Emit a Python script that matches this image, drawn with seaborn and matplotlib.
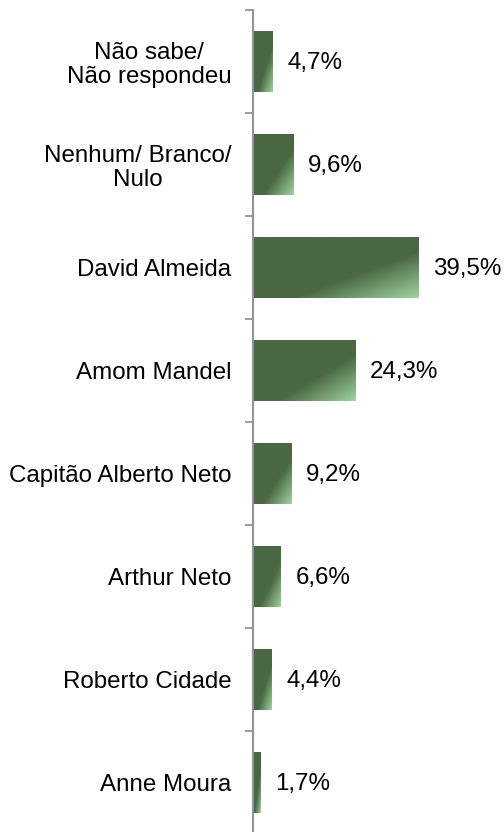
import numpy as np
import pandas as pd
import matplotlib
matplotlib.use("Agg")
import matplotlib.pyplot as plt
import seaborn as sns

categories = ["Não sabe/\nNão respondeu", "Nenhum/ Branco/\nNulo", "David Almeida",
              "Amom Mandel", "Capitão Alberto Neto", "Arthur Neto",
              "Roberto Cidade", "Anne Moura"]
values = [4.7, 9.6, 39.5, 24.3, 9.2, 6.6, 4.4, 1.7]
value_labels = ["4,7%", "9,6%", "39,5%", "24,3%", "9,2%", "6,6%", "4,4%", "1,7%"]

sns.set_theme(style="white")
plt.rcParams['font.family'] = ['Liberation Sans', 'DejaVu Sans']

W, H, DPI = 504, 832, 100
fig = plt.figure(figsize=(W / DPI, H / DPI), dpi=DPI)
ax = fig.add_axes([253 / W, -2 / H, (W - 253) / W, 824 / H])

df = pd.DataFrame({"cat": categories, "val": values})
dark = np.array([74, 104, 66]) / 255
light = np.array([160, 212, 160]) / 255
sns.barplot(data=df, y="cat", x="val", orient="h", color=tuple(dark),
            saturation=1, width=0.59, ax=ax, edgecolor="none")

ax.set_xlim(0, 251 / 4.2)
ax.set_ylim(7.5, -0.5)

# gradient overlay on each bar
for p in list(ax.patches):
    x0, y0, w, h = p.get_x(), p.get_y(), p.get_width(), p.get_height()
    M, N = 200, 100
    u = np.linspace(0, 1, M)[None, :]
    v = np.linspace(0, 1, N)[:, None]
    t = (u + v) / 2
    f = np.clip((t - 0.62) / 0.38, 0, 1)[..., None]
    img = dark[None, None, :] * (1 - f) + light[None, None, :] * f
    im = ax.imshow(img, extent=(x0, x0 + w, y0 + h, y0), origin="upper",
                   aspect="auto", zorder=p.get_zorder() + 0.1, interpolation="bilinear")
    im.set_clip_path(p)

ax.set_xlim(0, 251 / 4.2)
ax.set_ylim(7.5, -0.5)

FS = 17.4
for i, (v, lab) in enumerate(zip(values, value_labels)):
    ax.annotate(lab, xy=(v, i), xytext=(10.5, -1.2), textcoords="offset points",
                ha="left", va="center", fontsize=FS, color="black")

for s in ["top", "right", "bottom"]:
    ax.spines[s].set_visible(False)
ax.spines["left"].set_color("#8c949c")
ax.spines["left"].set_linewidth(1.5)

ax.set_xticks([])
ax.set_xlabel("")
ax.set_ylabel("")
ax.set_yticks(range(len(categories)))
ax.set_yticklabels(categories, fontsize=FS, color="black")
for t in ax.get_yticklabels():
    t.set_multialignment("center")
    t.set_linespacing(1.1)
ax.tick_params(axis="y", which="major", length=0, pad=15.5)
ax.set_yticks(np.arange(-0.5, len(categories), 1.0), minor=True)
ax.tick_params(axis="y", which="minor", length=5.8, width=1.3, color="#8c949c", left=True)

fig.savefig("out.png", dpi=DPI)
